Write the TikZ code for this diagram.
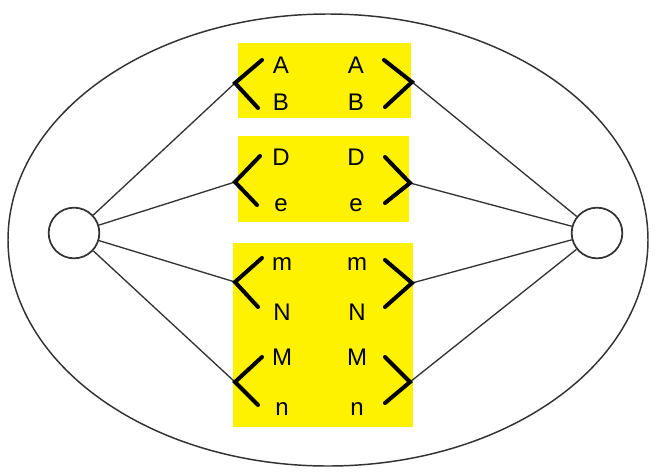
\documentclass[tikz,border=0pt]{standalone}
\usepackage{fontspec}
\setmainfont{Liberation Sans}
\begin{document}
\begin{tikzpicture}[x=0.75pt,y=-0.75pt,
  lbl/.style={font=\fontsize{18}{20}\selectfont, inner sep=0pt, anchor=center},
  ybox/.style={fill=yellow, draw=none},
  brk/.style={line width=3pt, line cap=round, line join=miter},
  conn/.style={line width=1pt, draw=black!80},
  hub/.style={circle, draw=black!80, line width=1.3pt, minimum size=38pt, inner sep=0pt, fill=white}]
\useasboundingbox (0,0) rectangle (657,472);
\draw[line width=1.1pt, draw=black!80] (328,240) ellipse [x radius=320, y radius=226];
% yellow boxes
\fill[yellow] (238,43) rectangle (411,118);
\fill[yellow] (238,136) rectangle (409,222);
\fill[yellow] (233,243) rectangle (413,427);
% hubs
\node[hub] (L) at (74,233) {};
\node[hub] (R) at (597,233) {};
% bracket tips
\coordinate (l1) at (235,83);  \coordinate (r1) at (412,82);
\coordinate (l2) at (235,182); \coordinate (r2) at (410,183);
\coordinate (l3) at (235,282); \coordinate (r3) at (412,283);
\coordinate (l4) at (235,382); \coordinate (r4) at (410,382);
% connectors
\foreach \i in {1,2,3,4}{
  \draw[conn] (L) -- (l\i);
  \draw[conn] (R) -- (r\i);
}
% brackets
\draw[brk] (262,60) -- (l1) -- (258,108);
\draw[brk] (384,60) -- (r1) -- (385,107);
\draw[brk] (260,156) -- (l2) -- (257,205);
\draw[brk] (385,157) -- (r2) -- (385,203);
\draw[brk] (262,258) -- (l3) -- (258,307);
\draw[brk] (385,260) -- (r3) -- (385,307);
\draw[brk] (262,357) -- (l4) -- (258,405);
\draw[brk] (385,357) -- (r4) -- (385,403);
% labels
\node[lbl] (a1) at (281,65) {A};  \node[lbl] (a2) at (356,65) {A};
\node[lbl] (b1) at (281,102) {B}; \node[lbl] (b2) at (356,102) {B};
\node[lbl] (d1) at (281,157) {D}; \node[lbl] (d2) at (356,157) {D};
\node[lbl] (e1) at (281,205) {e}; \node[lbl] (e2) at (356,205) {e};
\node[lbl] (m1) at (282,264) {m}; \node[lbl] (m2) at (357,264) {m};
\node[lbl] (N1) at (282,312) {N}; \node[lbl] (N2) at (357,312) {N};
\node[lbl] (M1) at (282,357) {M}; \node[lbl] (M2) at (357,357) {M};
\node[lbl] (n1) at (282,409) {n}; \node[lbl] (n2) at (357,409) {n};
\end{tikzpicture}
\end{document}
